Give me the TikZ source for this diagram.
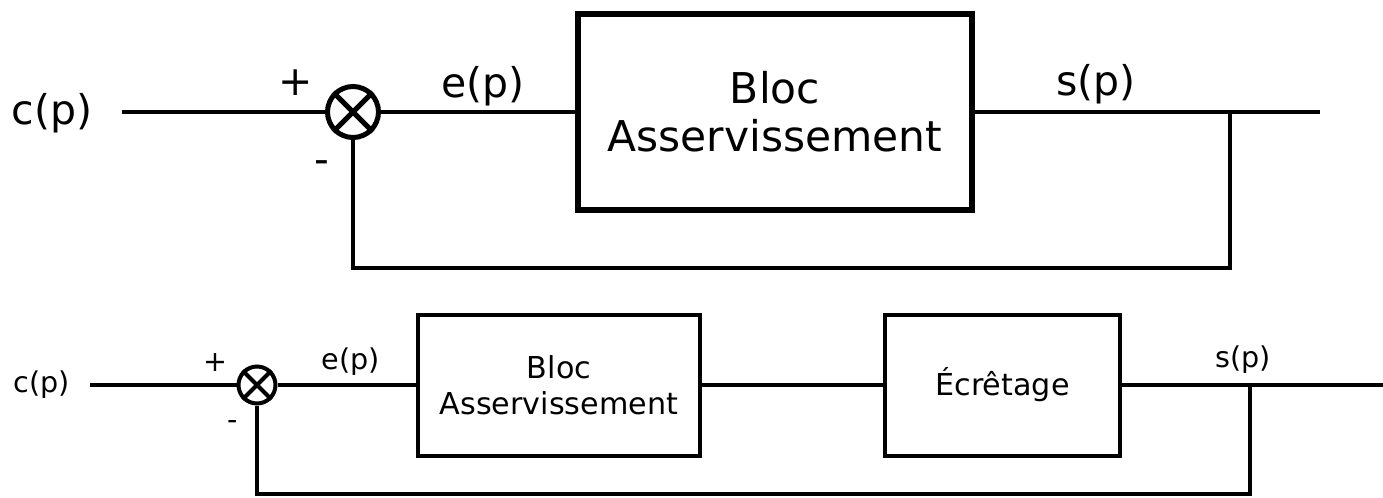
\documentclass[tikz,border=0pt]{standalone}
\usepackage{fontspec}
\setmainfont{DejaVu Sans}

\begin{document}
\begin{tikzpicture}[x=0.5pt, y=-0.5pt,
    blocA/.style={draw, line width=3pt, inner sep=0pt, align=center,
          minimum width=197pt, minimum height=98pt, font=\fontsize{21.2}{24}\selectfont},
    blocB/.style={draw, line width=2pt, inner sep=0pt, align=center,
          minimum width=141pt, minimum height=70.5pt, font=\fontsize{15.1}{18}\selectfont},
    sumA/.style={draw, circle, line width=2.5pt, inner sep=0pt, minimum size=25.5pt},
    sumB/.style={draw, circle, line width=2pt, inner sep=0pt, minimum size=18.5pt},
    lblA/.style={inner sep=0pt, font=\fontsize{20.5}{24}\selectfont},
    lblB/.style={inner sep=0pt, font=\fontsize{14.3}{17}\selectfont}]
  \useasboundingbox (0,0) rectangle (1383,498);

  % premier schema
  \node[lblA] (cA) at (52,113) {c(p)};
  \coordinate (inA) at (122,112);
  \node[sumA] (sA) at (353,112) {};
  \draw[line width=2.5pt] (sA.north west) -- (sA.south east) (sA.north east) -- (sA.south west);
  \node[lblA] (plusA) at (296,83) {+};
  \node[lblA] (moinsA) at (322,167) {-};
  \node[blocA] (bA) at (775,112) {Bloc\\Asservissement};
  \node[lblA] (eA) at (483,86) {e(p)};
  \node[lblA] (sortA) at (1096,84) {s(p)};
  \coordinate (tapA) at (1230,112);
  \coordinate (outA) at (1320,112);
  \coordinate (fbA) at (1230,268);
  \draw[line width=2pt] (inA) -- (sA);
  \draw[line width=2pt] (sA) -- (bA);
  \draw[line width=2pt] (bA) -- (outA);
  \draw[line width=2pt] (tapA) -- (fbA) -| (sA.south);

  % second schema
  \node[lblB] (cB) at (42,385) {c(p)};
  \coordinate (inB) at (90,385);
  \node[sumB] (sB) at (257,385) {};
  \draw[line width=2pt] (sB.north west) -- (sB.south east) (sB.north east) -- (sB.south west);
  \node[lblB] (plusB) at (215,363) {+};
  \node[lblB] (moinsB) at (233,425) {-};
  \node[blocB] (b1) at (559,385) {Bloc\\Asservissement};
  \node[blocB, minimum width=117.5pt] (b2) at (1002.5,385) {Écrêtage};
  \node[lblB] (eB) at (351,362) {e(p)};
  \node[lblB] (sortB) at (1243,360) {s(p)};
  \coordinate (tapB) at (1250,385);
  \coordinate (outB) at (1383,385);
  \coordinate (fbB) at (1250,494);
  \draw[line width=1.75pt] (inB) -- (sB);
  \draw[line width=1.75pt] (sB) -- (b1);
  \draw[line width=1.75pt] (b1) -- (b2);
  \draw[line width=1.75pt] (b2) -- (outB);
  \draw[line width=1.75pt] (tapB) -- (fbB) -| (sB.south);
\end{tikzpicture}
\end{document}
